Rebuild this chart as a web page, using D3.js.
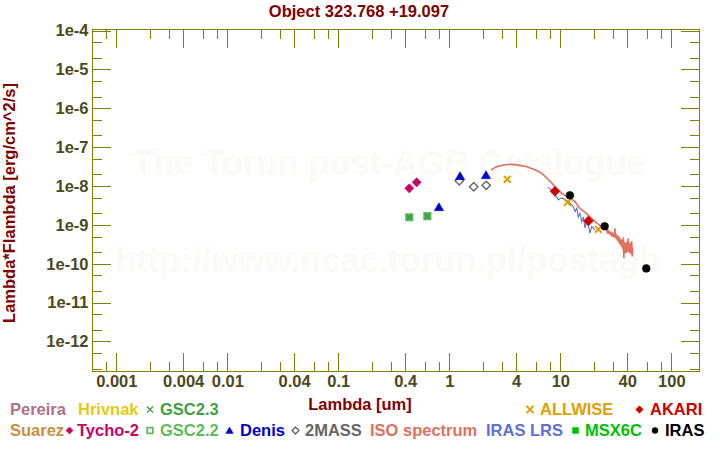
<!DOCTYPE html>
<html><head><meta charset="utf-8">
<script src="https://cdn.jsdelivr.net/npm/d3@7"></script>
<style>
body{margin:0;background:#fff}
svg{display:block}
text{font-family:"Liberation Sans",Arial,Helvetica,sans-serif;font-weight:bold}
</style>
</head><body><svg id="c" width="720" height="450"></svg>
<script>
// ---------- data ----------
const title = "Object 323.768 +19.097";
const xLabel = "Lambda [um]";
const yLabel = "Lambda*Flambda [erg/cm^2/s]";
const watermark1 = "The Torun post-AGB Catalogue";
const watermark2 = "http://www.ncac.torun.pl/postagb";
const xTickLabels = ["0.001","0.004","0.01","0.04","0.1","0.4","1","4","10","40","100"];
const yTickLabels = ["1e-4","1e-5","1e-6","1e-7","1e-8","1e-9","1e-10","1e-11","1e-12"];

// photometry [wavelength um, lambda*F_lambda]
const pereira = [];
const hrivnak = [];
const suarez = [];
const tycho2 = [[0.436, 8.7e-9], [0.508, 1.24e-8]];
const gsc23 = [[0.436, 1.57e-9], [0.634, 1.67e-9]];
const gsc22 = [[0.436, 1.57e-9], [0.634, 1.67e-9]];
const denis = [[0.807, 2.88e-9], [1.25, 1.81e-8], [2.14, 1.92e-8]];
const twoMass = [[1.23, 1.37e-8], [1.66, 9.6e-9], [2.15, 1.04e-8]];
const allwise = [[3.33, 1.49e-8], [11.6, 3.81e-9], [22.0, 7.7e-10]];
const akari = [[8.96, 7.3e-9], [17.9, 1.26e-9]];
const msx6c = [];
const iras = [[12.2, 5.76e-9], [25.1, 9.2e-10], [59.5, 7.6e-11]];

const isoSpectrum = [
 [2.38,2.55e-8],[2.5,2.85e-8],[2.7,3.15e-8],[3.0,3.4e-8],[3.2,3.53e-8],[3.6,3.6e-8],[3.9,3.55e-8],
 [4.3,3.4e-8],[4.8,3.21e-8],[5.3,2.95e-8],[5.9,2.62e-8],[6.5,2.3e-8],[7.0,1.95e-8],[7.5,1.65e-8],
 [8.1,1.32e-8],[8.6,1.1e-8],[9.0,9.4e-9],[9.6,7.8e-9],[10.3,6.5e-9],[11.0,5.7e-9],[11.6,5.4e-9],
 [12.2,4.83e-9],[12.9,4.4e-9],[13.6,3.95e-9],[14.2,3.3e-9],[15.0,2.67e-9],[16.0,2.3e-9],[17.0,2.0e-9],
 [17.9,1.79e-9],[19.0,1.5e-9],[20.5,1.21e-9],[22.0,1.05e-9],[23.6,8.97e-10],[25.0,8.0e-10],
 [26.2,7.4e-10],[26.5,6.5e-10],[26.8,7.0e-10],[27.1,6.1e-10],[27.3,7.1e-10],[27.6,5.8e-10],[27.9,6.6e-10],
 [28.2,5.6e-10],[28.4,6.8e-10],[28.7,5.4e-10],[29.0,6.2e-10],[29.3,5.0e-10],[29.5,6.4e-10],[29.8,4.9e-10],
 [30.0,5.7e-10],[30.3,4.8e-10],[30.5,6.1e-10],[30.8,5.0e-10],[31.1,8.2e-10],[31.3,4.7e-10],[31.5,5.6e-10],
 [31.8,4.4e-10],[32.0,5.8e-10],[32.3,4.2e-10],[32.5,5.0e-10],[32.8,3.9e-10],[33.0,5.3e-10],[33.3,3.8e-10],
 [33.5,4.6e-10],[33.8,3.5e-10],[34.0,4.9e-10],[34.3,3.3e-10],[34.5,4.2e-10],[34.8,3.1e-10],[35.0,4.4e-10],
 [35.3,2.9e-10],[35.5,3.8e-10],[35.8,2.7e-10],[36.0,4.2e-10],[36.3,2.5e-10],[36.6,3.6e-10],[36.8,2.3e-10],
 [37.0,4.8e-10],[37.2,2.1e-10],[37.4,1.4e-10],[37.6,3.3e-10],[37.8,2.4e-10],[38.0,3.6e-10],[38.3,1.9e-10],
 [38.5,3.1e-10],[38.8,2.2e-10],[39.0,3.4e-10],[39.3,1.9e-10],[39.5,2.9e-10],[39.7,2.2e-10],[40.0,3.3e-10],
 [40.2,3.9e-10],[40.4,2.2e-10],[40.6,3.0e-10],[40.8,2.0e-10],[41.0,4.5e-10],[41.3,2.3e-10],[41.5,3.1e-10],
 [41.8,2.0e-10],[42.0,3.3e-10],[42.3,1.9e-10],[42.5,2.8e-10],[42.8,1.8e-10],[43.0,3.5e-10],[43.3,2.0e-10],
 [43.5,2.9e-10],[43.8,1.8e-10],[44.0,3.8e-10],[44.3,2.0e-10],[44.5,1.55e-10],[44.8,2.6e-10],[45.0,2.1e-10]
];
const irasLrs = [
 [7.7,9.2e-9],[8.08,8.7e-9],[8.5,7.2e-9],[8.96,5.9e-9],[9.3,5.2e-9],[9.6,4.4e-9],[10.1,4.9e-9],
 [10.6,4.8e-9],[11.2,4.4e-9],[11.8,3.95e-9],[12.4,3.5e-9],[13.1,2.9e-9],[13.6,2.2e-9],[14.1,2.7e-9],
 [14.5,1.6e-9],[15.0,2.0e-9],[15.6,1.2e-9],[16.1,1.6e-9],[16.7,8.2e-10],[17.3,1.33e-9],
 [17.9,9.9e-10],[18.5,6.1e-10],[19.2,9.0e-10],[20.5,7.4e-10]
];

// ---------- layout / styles ----------
const plot = {left: 92.5, right: 699, top: 29.5, bottom: 371};
const axisColor = "#808000";
const tickTextColor = "#4c4a1c";
const labelColor = "#800000";
const FS = 16.5;

const svg = d3.select("#c");

const x = d3.scaleLog().domain([Math.pow(10,-3.2144), Math.pow(10,2.2495)]).range([plot.left, plot.right]);
const y = d3.scaleLog().domain([Math.pow(10,-12.759), Math.pow(10,-3.974)]).range([plot.bottom, plot.top]);

// watermark
svg.append("text").attr("x", 389).attr("y", 175).attr("text-anchor","middle")
  .attr("font-size", 34.5).attr("fill", "#fcfaf6").text(watermark1);
svg.append("text").attr("x", 388).attr("y", 272).attr("text-anchor","middle")
  .attr("font-size", 34.5).attr("fill", "#fcfaf6").text(watermark2);

// ticks
const xMajor = xTickLabels.map(Number);
const xMinor = [];
for (let k = -4; k <= 2; k++) [2,3,6,8].forEach(m => { const v = m*Math.pow(10,k); if (x(v) > plot.left+0.5 && x(v) < plot.right-0.5) xMinor.push(v); });
const yMajor = yTickLabels.map(Number);
const yMinor = [];
for (let k = -13; k <= -5; k++) [2,5].forEach(m => { const v = m*Math.pow(10,k); if (y(v) < plot.bottom-0.5 && y(v) > plot.top+0.5) yMinor.push(v); });

function styleAxis(g){
  g.select(".domain").remove();
  g.selectAll(".tick line").attr("stroke", axisColor).attr("stroke-width",1).attr("shape-rendering","crispEdges");
  g.selectAll(".tick text").attr("fill", tickTextColor).attr("font-size",FS)
    .attr("font-family",'"Liberation Sans",Arial,sans-serif').attr("font-weight","bold");
}
svg.append("g").attr("transform",`translate(0,${plot.bottom})`)
  .call(d3.axisBottom(x).tickValues(xMajor).tickFormat((d,i)=>xTickLabels[i]).tickSize(-18).tickPadding(4)).call(styleAxis);
svg.append("g").attr("transform",`translate(0,${plot.bottom})`)
  .call(d3.axisBottom(x).tickValues(xMinor).tickFormat("").tickSize(-9)).call(styleAxis);
svg.append("g").attr("transform",`translate(0,${plot.top})`)
  .call(d3.axisTop(x).tickValues(xMajor).tickFormat("").tickSize(-18)).call(styleAxis);
svg.append("g").attr("transform",`translate(0,${plot.top})`)
  .call(d3.axisTop(x).tickValues(xMinor).tickFormat("").tickSize(-9)).call(styleAxis);
svg.append("g").attr("transform",`translate(${plot.left},0)`)
  .call(d3.axisLeft(y).tickValues(yMajor).tickFormat((d,i)=>yTickLabels[i]).tickSize(-18).tickPadding(4)).call(styleAxis);
svg.append("g").attr("transform",`translate(${plot.left},0)`)
  .call(d3.axisLeft(y).tickValues(yMinor).tickFormat("").tickSize(-9)).call(styleAxis);
svg.append("g").attr("transform",`translate(${plot.right},0)`)
  .call(d3.axisRight(y).tickValues(yMajor).tickFormat("").tickSize(-18)).call(styleAxis);
svg.append("g").attr("transform",`translate(${plot.right},0)`)
  .call(d3.axisRight(y).tickValues(yMinor).tickFormat("").tickSize(-9)).call(styleAxis);

svg.append("rect").attr("x",plot.left).attr("y",plot.top).attr("width",plot.right-plot.left).attr("height",plot.bottom-plot.top)
  .attr("fill","none").attr("stroke",axisColor).attr("stroke-width",1).attr("shape-rendering","crispEdges");

// titles
svg.append("text").attr("x",359).attr("y",17).attr("text-anchor","middle").attr("font-size",FS).attr("fill",labelColor).text(title);
svg.append("text").attr("x",360).attr("y",410).attr("text-anchor","middle").attr("font-size",FS).attr("fill",labelColor).text(xLabel);
svg.append("text").attr("transform","translate(15,203) rotate(-90)").attr("text-anchor","middle").attr("font-size",FS).attr("fill",labelColor).text(yLabel);

// marker shapes
const shapes = {
  diamond: r => `M0,${-r}L${r},0L0,${r}L${-r},0Z`,
  square: r => `M${-r},${-r}H${r}V${r}H${-r}Z`,
  triangle: r => `M0,${-r}L${r*1.1},${r*0.85}L${-r*1.1},${r*0.85}Z`,
  cross: r => `M${-r},${-r}L${r},${r}M${r},${-r}L${-r},${r}`,
  circle: r => `M${r},0A${r},${r} 0 1,1 ${-r},0A${r},${r} 0 1,1 ${r},0Z`
};
const styles = {
  "Pereira":  {color:"#b07088"},
  "Hrivnak":  {color:"#e8c814"},
  "Suarez":   {color:"#c89040"},
  "GSC2.3":   {color:"#40a040", shape:"cross", fill:false, r:2.6, lr:3, sw:1.4},
  "Tycho-2":  {color:"#cc0066", shape:"diamond", fill:true, r:4.6, lr:3.6},
  "GSC2.2":   {color:"#5cbc5c", shape:"square", fill:false, r:3.2, lr:2.8, sw:1.8},
  "Denis":    {color:"#0000cc", shape:"triangle", fill:true, r:4.3, lr:3.4},
  "2MASS":    {color:"#666666", shape:"diamond", fill:false, r:4.2, lr:3.4, sw:1.4},
  "ISO spectrum": {color:"#e07060"},
  "IRAS LRS": {color:"#6070d8"},
  "MSX6C":    {color:"#00c000", shape:"square", fill:true, r:3.2, lr:3},
  "IRAS":     {color:"#000000", shape:"circle", fill:true, r:3.9, lr:3},
  "ALLWISE":  {color:"#e0a000", shape:"cross", fill:false, r:3.4, lr:3.6, sw:2},
  "AKARI":    {color:"#cc0000", shape:"diamond", fill:true, r:5, lr:3.8}
};

// spectra
const line = d3.line().x(d=>x(d[0])).y(d=>y(d[1]));
svg.append("path").datum(isoSpectrum).attr("d",line).attr("fill","none").attr("stroke",styles["ISO spectrum"].color).attr("stroke-width",1.6);
svg.append("path").datum(irasLrs).attr("d",line).attr("fill","none").attr("stroke",styles["IRAS LRS"].color).attr("stroke-width",1.1);

function drawPoints(data, name, fillOverride){
  const s = styles[name];
  svg.append("g").selectAll("path").data(data).join("path")
    .attr("transform", d=>`translate(${x(d[0])},${y(d[1])})`)
    .attr("d", shapes[s.shape](s.r))
    .attr("fill", fillOverride || (s.fill ? s.color : "none"))
    .attr("stroke", s.color)
    .attr("stroke-width", s.fill ? 0.5 : s.sw);
}
drawPoints(gsc22, "GSC2.2", "#44aa44");
drawPoints(gsc23, "GSC2.3");
svg.selectAll("g").filter(function(){return false;});
drawPoints(tycho2, "Tycho-2");
drawPoints(twoMass, "2MASS");
drawPoints(denis, "Denis");
drawPoints(msx6c, "MSX6C");
drawPoints(allwise, "ALLWISE");
drawPoints(akari, "AKARI");
drawPoints(iras, "IRAS");

// legend
const legendLayout = [
  {name:"Pereira", row:0, tx:10},
  {name:"Hrivnak", row:0, tx:78},
  {name:"GSC2.3", row:0, mx:150, tx:160},
  {name:"ALLWISE", row:0, mx:530, tx:540},
  {name:"AKARI", row:0, mx:639.5, tx:650},
  {name:"Suarez", row:1, tx:10},
  {name:"Tycho-2", row:1, mx:69.5, tx:77},
  {name:"GSC2.2", row:1, mx:150, tx:160},
  {name:"Denis", row:1, mx:229.5, tx:240},
  {name:"2MASS", row:1, mx:295.5, tx:305},
  {name:"ISO spectrum", row:1, tx:370},
  {name:"IRAS LRS", row:1, tx:486},
  {name:"MSX6C", row:1, mx:575.5, tx:585},
  {name:"IRAS", row:1, mx:655, tx:665}
];
const rowY = [415, 436];
legendLayout.forEach(it => {
  const s = styles[it.name];
  if (it.mx !== undefined) {
    svg.append("path").attr("transform",`translate(${it.mx},${rowY[it.row]-5.5})`)
      .attr("d", shapes[s.shape](s.lr))
      .attr("fill", s.fill ? s.color : "none").attr("stroke", s.color)
      .attr("stroke-width", s.fill ? 0.5 : (s.sw||1.5));
  }
  svg.append("text").attr("x", it.tx).attr("y", rowY[it.row]).attr("font-size",FS).attr("fill", s.color).text(it.name);
});
</script>
</body></html>
